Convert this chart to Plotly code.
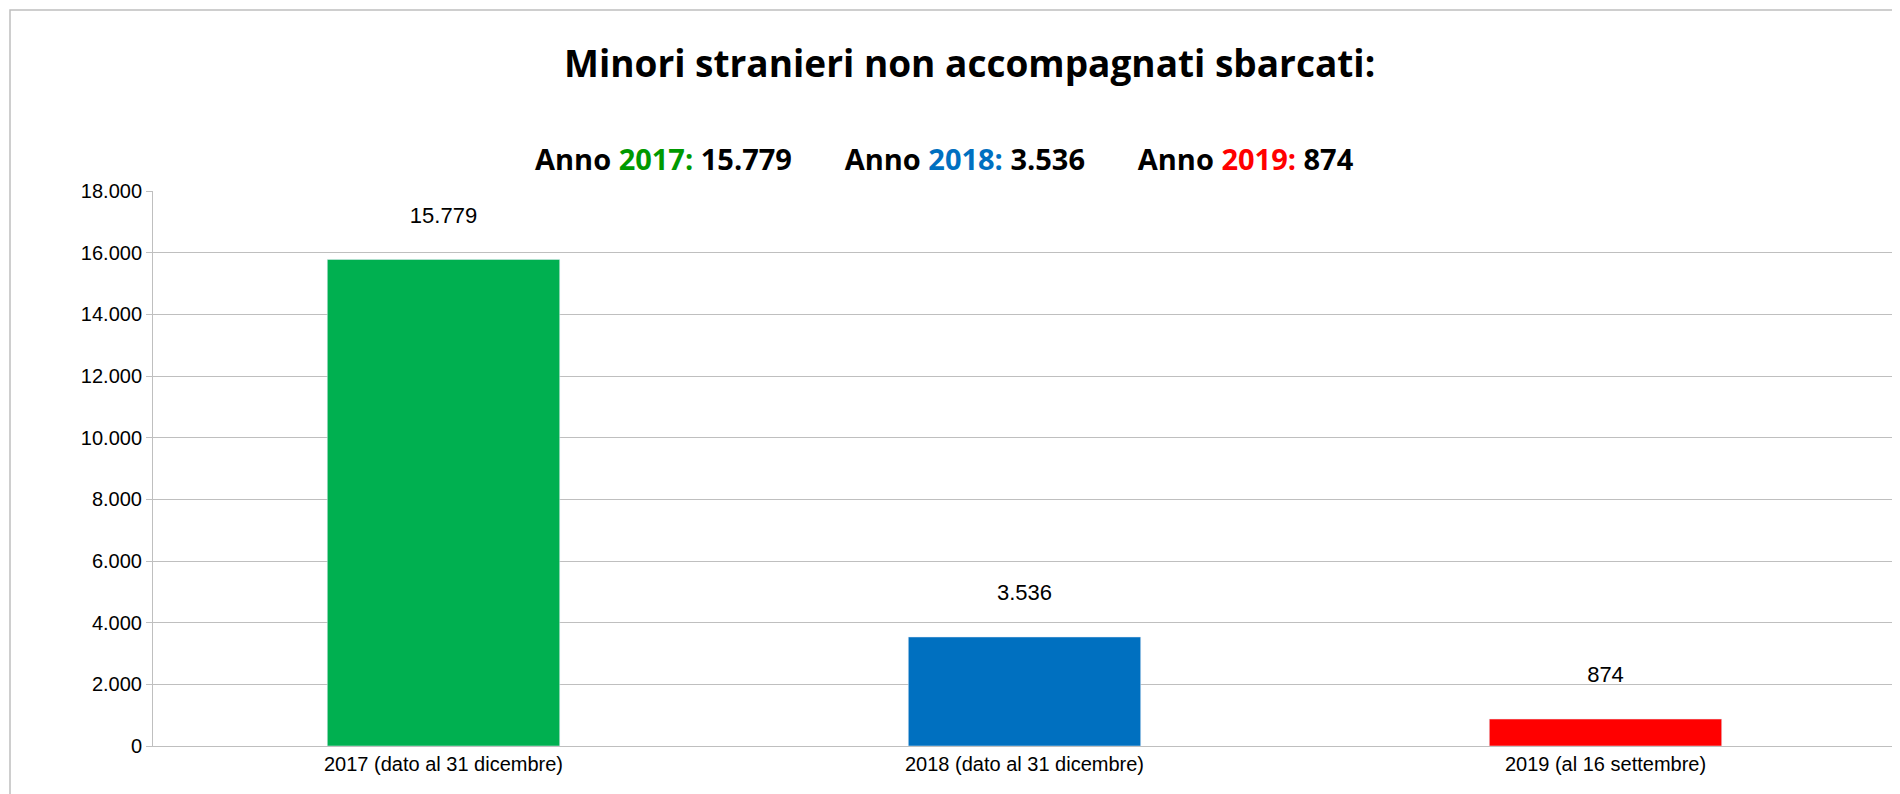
import plotly.graph_objects as go

categories = ["2017 (dato al 31 dicembre)", "2018 (dato al 31 dicembre)", "2019 (al 16 settembre)"]
values = [15779, 3536, 874]
colors = ["#00B050", "#0070C0", "#FF0000"]
tick_vals = [0, 2000, 4000, 6000, 8000, 10000, 12000, 14000, 16000, 18000]

labels = [f"{v:,}".replace(",", ".") for v in values]
fig = go.Figure(go.Bar(
    x=categories, y=values, marker_color=colors, width=0.4,
    text=[l + "<br> " for l in labels], textposition="outside",
    textfont=dict(size=22, color="black"), cliponaxis=False,
))

L, R, T, B = 145, 12, 183, 56
W, H = 1900, 794
pw, ph = W - L - R, H - T - B

fig.update_layout(
    width=W, height=H, margin=dict(l=L, r=R, t=T, b=B),
    paper_bgcolor="white", plot_bgcolor="white",
    separators=",.",
    font=dict(family="Liberation Sans, Arial", size=20, color="black"),
    showlegend=False,
    annotations=[
        dict(text="<b>Minori stranieri non accompagnati sbarcati:</b>", xref="paper", yref="paper",
             x=0.5 - 55/pw, y=1 + (T - 55)/ph, showarrow=False, font=dict(size=37, family="Open Sans, Liberation Sans"), yanchor="middle"),
        dict(text="<b>Anno <span style='color:#009900'>2017:</span> 15.779       Anno <span style='color:#0070C0'>2018:</span> 3.536       Anno <span style='color:#FF0000'>2019:</span> 874</b>",
             xref="paper", yref="paper", x=0.5 - 80/pw, y=1 + (T - 151)/ph, showarrow=False,
             font=dict(size=29, family="Open Sans, Liberation Sans"), yanchor="middle"),
    ],
    shapes=[dict(type="rect", xref="paper", yref="paper",
                 x0=-(L - 2)/pw, x1=1 + (R - 2)/pw, y0=-(B - 2)/ph, y1=1 + (T - 2)/ph,
                 line=dict(color="#BFBFBF", width=1.5))],
)
fig.update_yaxes(range=[0, 18000], tickvals=tick_vals, tickformat=",d", showgrid=True,
                 gridcolor="#BFBFBF", gridwidth=1, showline=True, linecolor="#BFBFBF",
                 ticks="outside", ticklen=6, tickcolor="#BFBFBF", zeroline=False)
fig.update_xaxes(showline=True, linecolor="#BFBFBF", ticks="", tickfont=dict(size=20))

fig.write_html("out.html")
